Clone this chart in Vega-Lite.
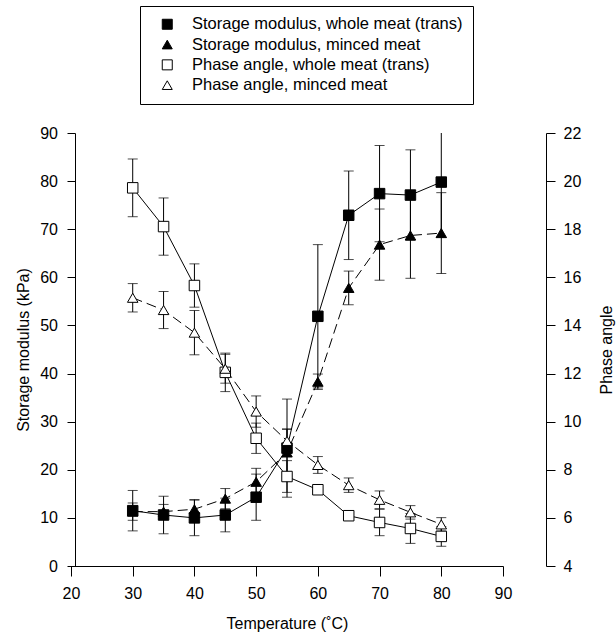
{
  "$schema": "https://vega.github.io/schema/vega-lite/v6.json",
  "width": 432,
  "height": 433,
  "autosize": "none",
  "padding": {"left": 71, "top": 133, "right": 113, "bottom": 68},
  "background": "white",
  "datasets": {
    "storage": [
      {"series": "Storage modulus, whole meat (trans)", "meat": "whole", "temp": 30, "value": 11.5, "err": 4.2},
      {"series": "Storage modulus, whole meat (trans)", "meat": "whole", "temp": 35, "value": 10.6, "err": 3.9},
      {"series": "Storage modulus, whole meat (trans)", "meat": "whole", "temp": 40, "value": 10.0, "err": 3.7},
      {"series": "Storage modulus, whole meat (trans)", "meat": "whole", "temp": 45, "value": 10.6, "err": 3.5},
      {"series": "Storage modulus, whole meat (trans)", "meat": "whole", "temp": 50, "value": 14.3, "err": 4.8},
      {"series": "Storage modulus, whole meat (trans)", "meat": "whole", "temp": 55, "value": 24.5, "err": 10.2},
      {"series": "Storage modulus, whole meat (trans)", "meat": "whole", "temp": 60, "value": 51.9, "err": 14.9},
      {"series": "Storage modulus, whole meat (trans)", "meat": "whole", "temp": 65, "value": 72.9, "err": 9.2},
      {"series": "Storage modulus, whole meat (trans)", "meat": "whole", "temp": 70, "value": 77.4, "err": 10.0},
      {"series": "Storage modulus, whole meat (trans)", "meat": "whole", "temp": 75, "value": 77.1, "err": 9.4},
      {"series": "Storage modulus, whole meat (trans)", "meat": "whole", "temp": 80, "value": 79.8, "err": 11.5},
      {"series": "Storage modulus, minced meat", "meat": "minced", "temp": 30, "value": 11.3, "err": 1.8},
      {"series": "Storage modulus, minced meat", "meat": "minced", "temp": 35, "value": 11.3, "err": 1.5},
      {"series": "Storage modulus, minced meat", "meat": "minced", "temp": 40, "value": 11.8, "err": 2.0},
      {"series": "Storage modulus, minced meat", "meat": "minced", "temp": 45, "value": 14.0, "err": 2.1},
      {"series": "Storage modulus, minced meat", "meat": "minced", "temp": 50, "value": 17.5, "err": 2.8},
      {"series": "Storage modulus, minced meat", "meat": "minced", "temp": 55, "value": 23.6, "err": 4.8},
      {"series": "Storage modulus, minced meat", "meat": "minced", "temp": 60, "value": 38.3, "err": 1.6},
      {"series": "Storage modulus, minced meat", "meat": "minced", "temp": 65, "value": 57.8, "err": 3.5},
      {"series": "Storage modulus, minced meat", "meat": "minced", "temp": 70, "value": 66.8, "err": 7.4},
      {"series": "Storage modulus, minced meat", "meat": "minced", "temp": 75, "value": 68.7, "err": 8.9},
      {"series": "Storage modulus, minced meat", "meat": "minced", "temp": 80, "value": 69.2, "err": 8.4}
    ],
    "phase": [
      {"series": "Phase angle, whole meat (trans)", "meat": "whole", "temp": 30, "value": 19.72, "err": 1.2},
      {"series": "Phase angle, whole meat (trans)", "meat": "whole", "temp": 35, "value": 18.11, "err": 1.19},
      {"series": "Phase angle, whole meat (trans)", "meat": "whole", "temp": 40, "value": 15.66, "err": 0.9},
      {"series": "Phase angle, whole meat (trans)", "meat": "whole", "temp": 45, "value": 12.05, "err": 0.8},
      {"series": "Phase angle, whole meat (trans)", "meat": "whole", "temp": 50, "value": 9.31, "err": 0.63},
      {"series": "Phase angle, whole meat (trans)", "meat": "whole", "temp": 55, "value": 7.72, "err": 0.66},
      {"series": "Phase angle, whole meat (trans)", "meat": "whole", "temp": 60, "value": 7.17, "err": 0.08},
      {"series": "Phase angle, whole meat (trans)", "meat": "whole", "temp": 65, "value": 6.09, "err": 0.1},
      {"series": "Phase angle, whole meat (trans)", "meat": "whole", "temp": 70, "value": 5.81, "err": 0.55},
      {"series": "Phase angle, whole meat (trans)", "meat": "whole", "temp": 75, "value": 5.56, "err": 0.62},
      {"series": "Phase angle, whole meat (trans)", "meat": "whole", "temp": 80, "value": 5.23, "err": 0.41},
      {"series": "Phase angle, minced meat", "meat": "minced", "temp": 30, "value": 15.15, "err": 0.59},
      {"series": "Phase angle, minced meat", "meat": "minced", "temp": 35, "value": 14.64, "err": 0.77},
      {"series": "Phase angle, minced meat", "meat": "minced", "temp": 40, "value": 13.7, "err": 0.92},
      {"series": "Phase angle, minced meat", "meat": "minced", "temp": 45, "value": 12.2, "err": 0.6},
      {"series": "Phase angle, minced meat", "meat": "minced", "temp": 50, "value": 10.42, "err": 0.65},
      {"series": "Phase angle, minced meat", "meat": "minced", "temp": 55, "value": 9.2, "err": 0.5},
      {"series": "Phase angle, minced meat", "meat": "minced", "temp": 60, "value": 8.2, "err": 0.35},
      {"series": "Phase angle, minced meat", "meat": "minced", "temp": 65, "value": 7.36, "err": 0.3},
      {"series": "Phase angle, minced meat", "meat": "minced", "temp": 70, "value": 6.75, "err": 0.37},
      {"series": "Phase angle, minced meat", "meat": "minced", "temp": 75, "value": 6.23, "err": 0.28},
      {"series": "Phase angle, minced meat", "meat": "minced", "temp": 80, "value": 5.73, "err": 0.28}
    ],
    "one": [{}]
  },
  "layer": [
    {
      "data": {"name": "storage"},
      "encoding": {
        "x": {"field": "temp", "type": "quantitative", "scale": {"domain": [20, 90], "nice": false, "zero": false},
              "axis": {"title": "Temperature (˚C)", "values": [20, 30, 40, 50, 60, 70, 80, 90], "tickSize": 10, "labelPadding": 9, "titlePadding": 14, "labelFlush": false}},
        "y": {"field": "value", "type": "quantitative", "scale": {"domain": [0, 90], "nice": false},
              "axis": {"orient": "left", "title": "Storage modulus (kPa)", "offset": -4, "values": [0, 10, 20, 30, 40, 50, 60, 70, 80, 90], "tickSize": 8, "labelPadding": 9.5, "titlePadding": 8}}
      },
      "layer": [
        {"mark": {"type": "errorbar", "color": "black", "clip": true, "ticks": {"size": 10, "thickness": 1, "color": "black"}, "rule": {"strokeWidth": 1, "color": "black"}},
         "encoding": {"yError": {"field": "err"}}},
        {"transform": [{"filter": "datum.meat === 'whole'"}],
         "mark": {"type": "line", "color": "black", "strokeWidth": 1}},
        {"transform": [{"filter": "datum.meat === 'minced'"}],
         "mark": {"type": "line", "color": "black", "strokeWidth": 1, "strokeDash": [10, 5]}},
        {"mark": {"type": "point", "filled": true, "strokeWidth": 1, "opacity": 1, "size": 110},
         "encoding": {
           "shape": {"field": "series", "type": "nominal",
             "scale": {"domain": ["Storage modulus, whole meat (trans)", "Storage modulus, minced meat", "Phase angle, whole meat (trans)", "Phase angle, minced meat"], "range": ["square", "triangle-up", "square", "triangle-up"]},
             "legend": {"title": null, "orient": "none", "legendX": 69, "legendY": -127}},
           "fill": {"field": "series", "type": "nominal",
             "scale": {"domain": ["Storage modulus, whole meat (trans)", "Storage modulus, minced meat", "Phase angle, whole meat (trans)", "Phase angle, minced meat"], "range": ["black", "black", "white", "white"]},
             "legend": {"title": null, "orient": "none", "legendX": 69, "legendY": -127}},
           "stroke": {"field": "series", "type": "nominal",
             "scale": {"domain": ["Storage modulus, whole meat (trans)", "Storage modulus, minced meat", "Phase angle, whole meat (trans)", "Phase angle, minced meat"], "range": ["black", "black", "black", "black"]},
             "legend": {"title": null, "orient": "none", "legendX": 69, "legendY": -127}}
         }},
        {"data": {"name": "one"}, "mark": {"type": "rule", "color": "black", "strokeWidth": 1},
         "encoding": {"x": {"datum": 20}, "x2": {"datum": 90}, "y": {"datum": 90}}},
        {"data": {"name": "one"}, "mark": {"type": "rule", "color": "black", "strokeWidth": 1},
         "encoding": {"x": {"datum": 90}, "y": {"datum": 0}, "y2": {"datum": 90}}}
      ]
    },
    {
      "data": {"name": "phase"},
      "encoding": {
        "x": {"field": "temp", "type": "quantitative", "scale": {"domain": [20, 90], "nice": false, "zero": false}},
        "y": {"field": "value", "type": "quantitative", "scale": {"domain": [4, 22], "nice": false, "zero": false},
              "axis": {"orient": "right", "title": "Phase angle", "offset": 43, "values": [4, 6, 8, 10, 12, 14, 16, 18, 20, 22], "tickSize": 9, "labelPadding": 8, "titlePadding": 18, "titleAngle": 270, "titleBaseline": "top"}}
      },
      "layer": [
        {"mark": {"type": "errorbar", "color": "black", "clip": true, "ticks": {"size": 10, "thickness": 1, "color": "black"}, "rule": {"strokeWidth": 1, "color": "black"}},
         "encoding": {"yError": {"field": "err"}}},
        {"transform": [{"filter": "datum.meat === 'whole'"}],
         "mark": {"type": "line", "color": "black", "strokeWidth": 1}},
        {"transform": [{"filter": "datum.meat === 'minced'"}],
         "mark": {"type": "line", "color": "black", "strokeWidth": 1, "strokeDash": [10, 5]}},
        {"mark": {"type": "point", "filled": true, "strokeWidth": 1, "opacity": 1, "size": 110},
         "encoding": {
           "shape": {"field": "series", "type": "nominal"},
           "fill": {"field": "series", "type": "nominal"},
           "stroke": {"field": "series", "type": "nominal"}
         }}
      ]
    }
  ],
  "resolve": {"scale": {"y": "independent"}},
  "config": {
    "view": {"stroke": null},
    "font": "Liberation Sans",
    "legend": {"padding": 10, "strokeColor": "black", "fillColor": "white", "symbolSize": 100, "symbolOffset": 9, "labelOffset": 16.5, "rowPadding": 3.3, "labelLimit": 400, "labelFont": "Liberation Sans", "labelFontSize": 16.5, "labelColor": "black", "symbolStrokeColor": "black", "symbolStrokeWidth": 1, "symbolOpacity": 1},
    "axis": {"domainColor": "black", "tickColor": "black", "labelColor": "black", "titleColor": "black", "labelFont": "Liberation Sans", "titleFont": "Liberation Sans", "labelFontSize": 16, "titleFontSize": 16, "titleFontWeight": "normal", "grid": false, "domainWidth": 1, "tickWidth": 1}
  }
}
